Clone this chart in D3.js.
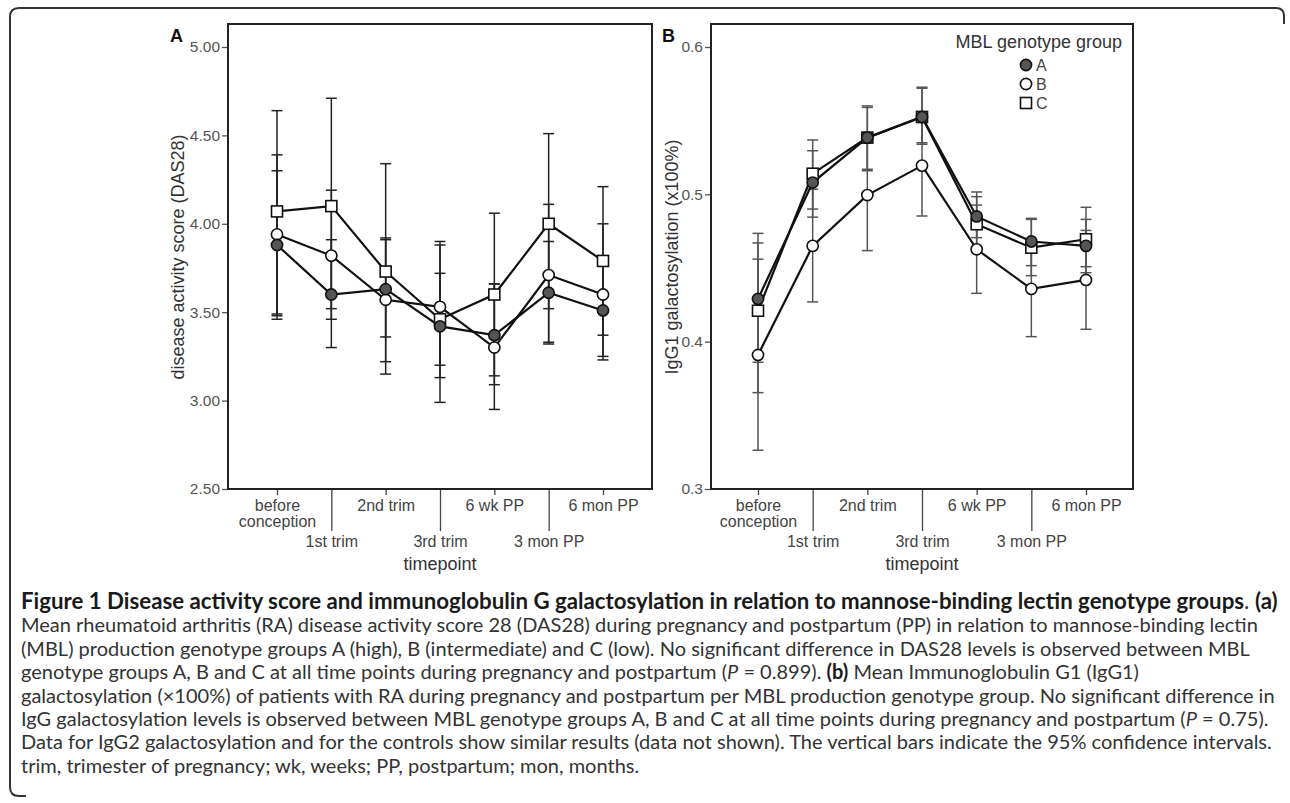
<!DOCTYPE html>
<html>
<head>
<meta charset="utf-8">
<script src="https://d3js.org/d3.v7.min.js"></script>
<style>
body { margin: 0; background: #fff; }
</style>
</head>
<body>
<script>
// timepoints on the x axis
var timepoints = ["before conception", "1st trim", "2nd trim", "3rd trim", "6 wk PP", "3 mon PP", "6 mon PP"];
var groups = ["A", "B", "C"];

// panel A: DAS28 mean and 95% CI per MBL genotype group
var dasA    = [3.88, 3.60, 3.63, 3.42, 3.37, 3.61, 3.51];
var dasA_lo = [3.46, 3.30, 3.36, 3.13, 3.09, 3.33, 3.25];
var dasA_hi = [4.30, 3.91, 3.91, 3.72, 3.66, 3.90, 3.78];
var dasB    = [3.94, 3.82, 3.57, 3.53, 3.30, 3.71, 3.60];
var dasB_lo = [3.48, 3.46, 3.22, 3.20, 2.95, 3.32, 3.23];
var dasB_hi = [4.39, 4.19, 3.92, 3.88, 3.66, 4.11, 4.00];
var dasC    = [4.07, 4.10, 3.73, 3.46, 3.60, 4.00, 3.79];
var dasC_lo = [3.49, 3.52, 3.15, 2.99, 3.14, 3.52, 3.37];
var dasC_hi = [4.64, 4.71, 4.34, 3.90, 4.06, 4.51, 4.21];
var dasTicks = [2.5, 3.0, 3.5, 4.0, 4.5, 5.0];

// panel B: IgG1 galactosylation mean and 95% CI
var igA    = [0.429, 0.508, 0.5385, 0.5525, 0.485, 0.468, 0.465];
var igA_lo = [0.386, 0.4845, 0.516, 0.534, 0.4706, 0.4516, 0.4468];
var igA_hi = [0.4735, 0.5296, 0.560, 0.5727, 0.5016, 0.4837, 0.483];
var igB    = [0.391, 0.465, 0.4995, 0.5195, 0.4627, 0.4358, 0.4419];
var igB_lo = [0.3263, 0.427, 0.4618, 0.4853, 0.4328, 0.4034, 0.4084];
var igB_hi = [0.456, 0.5034, 0.537, 0.553, 0.4927, 0.468, 0.4755];
var igC    = [0.421, 0.514, 0.5385, 0.5525, 0.4797, 0.4638, 0.4695];
var igC_lo = [0.3654, 0.490, 0.517, 0.535, 0.461, 0.4448, 0.4509];
var igC_hi = [0.467, 0.5369, 0.559, 0.572, 0.4984, 0.483, 0.4912];
var igTicks = [0.3, 0.4, 0.5, 0.6];

var W = 1290, H = 803;
var svg = d3.select("body").append("svg").attr("width", W).attr("height", H);
var chartFont = "'Liberation Sans', Arial, Helvetica, sans-serif";

// outer rounded frame (left + top, short tails)
svg.append("path")
    .attr("d", "M1284,24 L1284,16 Q1284,8 1276,8 L19,8 Q10,8 10,17 L10,787 Q10,796 19,796 L26,796")
    .attr("fill", "none")
    .attr("stroke", "#333")
    .attr("stroke-width", 2);

function makeSeries(a, alo, ahi, b, blo, bhi, c, clo, chi) {
    // drawing order: C under B under A
    return [
        {name: "C", mean: c, lo: clo, hi: chi},
        {name: "B", mean: b, lo: blo, hi: bhi},
        {name: "A", mean: a, lo: alo, hi: ahi}
    ];
}

function drawPanel(cfg) {
    var g = svg.append("g");
    var x = d3.scalePoint().domain(timepoints).range([cfg.left + cfg.inset, cfg.right - cfg.inset]);
    var y = d3.scaleLinear().domain(cfg.domain).range([489, 47]);

    // y axis
    var yAxis = g.append("g")
        .attr("transform", "translate(" + cfg.left + ",0)")
        .call(d3.axisLeft(y).tickValues(cfg.ticks).tickFormat(cfg.fmt).tickSize(6).tickPadding(2));
    yAxis.select(".domain").remove();
    yAxis.selectAll("line").attr("stroke", "#555").attr("stroke-width", 1.3);
    yAxis.selectAll("text").attr("fill", "#555").style("font-family", chartFont).style("font-size", "15.5px");

    // x axis with staggered labels
    var xAxis = g.append("g")
        .attr("transform", "translate(0,489)")
        .call(d3.axisBottom(x).tickSize(6));
    xAxis.select(".domain").remove();
    xAxis.selectAll(".tick line")
        .attr("stroke", "#444").attr("stroke-width", 1.3)
        .attr("y2", function(d, i) { return i % 2 ? 42 : 6; });
    xAxis.selectAll(".tick text").each(function(d, i) {
        var t = d3.select(this).attr("dy", null).attr("fill", "#444")
            .style("font-family", chartFont).style("font-size", "16px")
            .attr("y", i % 2 ? 58 : 22).text(null);
        var words = d === "before conception" ? ["before", "conception"] : [d];
        words.forEach(function(w, j) {
            t.append("tspan").attr("x", 0).attr("dy", j ? 16 : 0).text(w);
        });
    });

    // plot frame
    g.append("rect")
        .attr("x", cfg.left).attr("y", 24)
        .attr("width", cfg.right - cfg.left).attr("height", 489 - 24)
        .attr("fill", "none").attr("stroke", "#222").attr("stroke-width", 2);

    // axis titles
    g.append("text")
        .attr("x", (cfg.left + cfg.right) / 2).attr("y", 570)
        .attr("text-anchor", "middle").attr("fill", "#333")
        .style("font-family", chartFont).style("font-size", "18px")
        .text("timepoint");
    g.append("text")
        .attr("transform", "translate(" + cfg.titleX + ",257) rotate(-90)")
        .attr("text-anchor", "middle").attr("fill", "#333")
        .style("font-family", chartFont).style("font-size", "18px")
        .text(cfg.yTitle);
    g.append("text")
        .attr("x", cfg.letterX).attr("y", 42)
        .attr("fill", "#111").style("font-family", chartFont)
        .style("font-size", "18px").style("font-weight", "bold")
        .text(cfg.letter);

    var series = cfg.series;
    var cap = 5.5;

    // error bars
    series.forEach(function(s) {
        var eb = g.append("g").attr("stroke", cfg.barColor).attr("stroke-width", 1.5);
        timepoints.forEach(function(tp, i) {
            var cx = x(tp);
            eb.append("line").attr("x1", cx).attr("x2", cx).attr("y1", y(s.lo[i])).attr("y2", y(s.hi[i]));
            eb.append("line").attr("x1", cx - cap).attr("x2", cx + cap).attr("y1", y(s.lo[i])).attr("y2", y(s.lo[i]));
            eb.append("line").attr("x1", cx - cap).attr("x2", cx + cap).attr("y1", y(s.hi[i])).attr("y2", y(s.hi[i]));
        });
    });

    // lines
    var line = d3.line().x(function(d, i) { return x(timepoints[i]); }).y(function(d) { return y(d); });
    series.forEach(function(s) {
        g.append("path").datum(s.mean).attr("d", line)
            .attr("fill", "none").attr("stroke", "#111").attr("stroke-width", 2.2);
    });

    // markers
    series.forEach(function(s) {
        var mk = g.append("g");
        s.mean.forEach(function(v, i) {
            drawMarker(mk, s.name, x(timepoints[i]), y(v));
        });
    });

    if (cfg.legend) {
        var lg = g.append("g").style("font-family", chartFont);
        lg.append("text").attr("x", 1122).attr("y", 48).attr("text-anchor", "end")
            .attr("fill", "#333").style("font-size", "18px").text("MBL genotype group");
        groups.forEach(function(name, i) {
            var ly = 65 + i * 19;
            drawMarker(lg, name, 1026, ly);
            lg.append("text").attr("x", 1036).attr("y", ly + 6)
                .attr("fill", "#444").style("font-size", "16px").text(name);
        });
    }
}

function drawMarker(sel, name, cx, cy) {
    if (name === "C") {
        sel.append("rect").attr("x", cx - 5.5).attr("y", cy - 5.5).attr("width", 11).attr("height", 11)
            .attr("fill", "#fff").attr("stroke", "#111").attr("stroke-width", 1.6);
    } else {
        sel.append("circle").attr("cx", cx).attr("cy", cy).attr("r", 5.6)
            .attr("fill", name === "A" ? "#555" : "#fff")
            .attr("stroke", "#111").attr("stroke-width", 1.6);
    }
}

drawPanel({
    left: 228, right: 652, inset: 49, domain: [2.5, 5.0], ticks: dasTicks,
    fmt: d3.format(".2f"), yTitle: "disease activity score (DAS28)", titleX: 184,
    letter: "A", letterX: 170, barColor: "#222",
    series: makeSeries(dasA, dasA_lo, dasA_hi, dasB, dasB_lo, dasB_hi, dasC, dasC_lo, dasC_hi),
    legend: false
});
drawPanel({
    left: 711, right: 1133, inset: 47, domain: [0.3, 0.6], ticks: igTicks,
    fmt: d3.format(".1f"), yTitle: "IgG1 galactosylation (x100%)", titleX: 678,
    letter: "B", letterX: 662, barColor: "#555",
    series: makeSeries(igA, igA_lo, igA_hi, igB, igB_lo, igB_hi, igC, igC_lo, igC_hi),
    legend: true
});

// caption, each line is a list of [text, style] runs
var caption = [
    [["Figure 1 Disease activity score and immunoglobulin G galactosylation in relation to mannose-binding lectin genotype groups", "b"], [". ", ""], ["(a)", "b"]],
    [["Mean rheumatoid arthritis (RA) disease activity score 28 (DAS28) during pregnancy and postpartum (PP) in relation to mannose-binding lectin", ""]],
    [["(MBL) production genotype groups A (high), B (intermediate) and C (low). No significant difference in DAS28 levels is observed between MBL", ""]],
    [["genotype groups A, B and C at all time points during pregnancy and postpartum (", ""], ["P", "i"], [" = 0.899). ", ""], ["(b)", "b"], [" Mean Immunoglobulin G1 (IgG1)", ""]],
    [["galactosylation (\u00d7100%) of patients with RA during pregnancy and postpartum per MBL production genotype group. No significant difference in", ""]],
    [["IgG galactosylation levels is observed between MBL genotype groups A, B and C at all time points during pregnancy and postpartum (", ""], ["P", "i"], [" = 0.75).", ""]],
    [["Data for IgG2 galactosylation and for the controls show similar results (data not shown). The vertical bars indicate the 95% confidence intervals.", ""]],
    [["trim, trimester of pregnancy; wk, weeks; PP, postpartum; mon, months.", ""]]
];

var capFont = "Lato, 'Open Sans', sans-serif";
var capG = svg.append("g").style("font-family", capFont);
var capLines = capG.selectAll("text").data(caption).enter().append("text")
    .attr("x", 21)
    .attr("y", function(d, i) { return 609 + i * 23.4; })
    .style("font-size", "20px");
capLines.each(function(runs) {
    var t = d3.select(this);
    runs.forEach(function(r) {
        t.append("tspan")
            .attr("fill", r[1] === "b" ? "#1a1a1a" : "#333")
            .style("font-weight", r[1] === "b" ? "bold" : "normal")
            .style("font-style", r[1] === "i" ? "italic" : "normal")
            .text(r[0]);
    });
});
// fit caption size so the lines span the same width as in the figure
var w2 = capLines.filter(function(d, i) { return i === 1; }).node().getComputedTextLength();
var capSize = 20 * (1259 - 21) / w2;
capLines.style("font-size", capSize + "px");
var head = capLines.filter(function(d, i) { return i === 0; });
var w1 = head.node().getComputedTextLength();
head.style("font-size", (capSize * (1277 - 21) / w1) + "px");
</script>
</body>
</html>
